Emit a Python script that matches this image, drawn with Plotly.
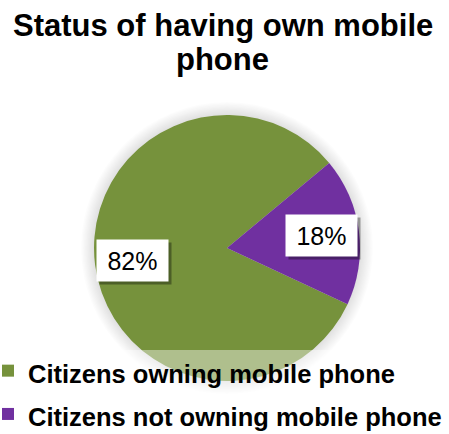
import math
import plotly.graph_objects as go

# Share of citizens by mobile phone ownership
labels = ["Citizens owning mobile phone", "Citizens not owning mobile phone"]
values = [82, 18]
colors = ["#76923C", "#7030A0"]
title_lines = ["Status of having own mobile", "phone"]

W, H = 449, 434
dom_x = [0.2094, 0.8018]
dom_y = [0.1221, 0.7350]
rotation = 115

fig = go.Figure()
fig.add_trace(go.Pie(
    labels=[f"<span style='font-size:25.5px'>{l}</span>" for l in labels],
    values=values,
    marker=dict(colors=colors, line=dict(width=0)),
    sort=False,
    direction="clockwise",
    rotation=rotation,
    textinfo="none",
    hoverinfo="label+percent",
    domain=dict(x=dom_x, y=dom_y),
))

# pie geometry in pixels, used for the glow and the value boxes
cx = (dom_x[0] + dom_x[1]) / 2 * W
cy = (dom_y[0] + dom_y[1]) / 2 * H
R = min((dom_x[1] - dom_x[0]) * W, (dom_y[1] - dom_y[0]) * H) / 2

shapes = []
for k in range(1, 11):
    r = R + k * 1.3
    shapes.append(dict(
        type="circle", xref="paper", yref="paper", layer="below",
        x0=(cx - r) / W, x1=(cx + r) / W, y0=(cy - r) / H, y1=(cy + r) / H,
        fillcolor="rgba(0,0,0,0.011)", line=dict(width=0),
    ))
# translucent band behind the legend
shapes.append(dict(
    type="rect", xref="paper", yref="paper", layer="above",
    x0=0, x1=1, y0=0, y1=84 / H,
    fillcolor="rgba(255,255,255,0.42)", line=dict(width=0),
))

annotations = []
total = sum(values)
start = rotation
for v in values:
    span = v / total * 360
    mid = math.radians(start + span / 2)
    px = cx + 0.72 * R * math.sin(mid)
    py = cy + 0.72 * R * math.cos(mid)
    txt = f"{round(v / total * 100)}%"
    box = dict(xref="paper", yref="paper", x=px / W, y=py / H,
               showarrow=False, width=69, height=39,
               xanchor="center", yanchor="middle")
    annotations.append(dict(box, text="", bgcolor="rgba(0,0,0,0.35)",
                            xshift=3, yshift=-3))
    annotations.append(dict(box, text=txt, bgcolor="white",
                            font=dict(family="Liberation Sans", size=25,
                                      color="black")))
    start += span

title_y = [26, 59]
for line, ty in zip(title_lines, title_y):
    annotations.append(dict(
        xref="paper", yref="paper", x=222.5 / W, y=1 - ty / H,
        xanchor="center", yanchor="middle", showarrow=False, text=line,
        font=dict(family="Liberation Sans", size=31, color="black",
                  weight="bold"),
    ))

fig.update_layout(
    width=W, height=H,
    margin=dict(l=0, r=0, t=0, b=0, autoexpand=False),
    paper_bgcolor="white",
    plot_bgcolor="white",
    showlegend=True,
    legend=dict(
        x=-12 / W, y=-7 / H, xanchor="left", yanchor="bottom",
        bgcolor="rgba(0,0,0,0)", borderwidth=0,
        font=dict(family="Liberation Sans", size=31, color="black",
                  weight="bold"),
        traceorder="normal",
    ),
    shapes=shapes,
    annotations=annotations,
)

fig.write_html("out.html")
